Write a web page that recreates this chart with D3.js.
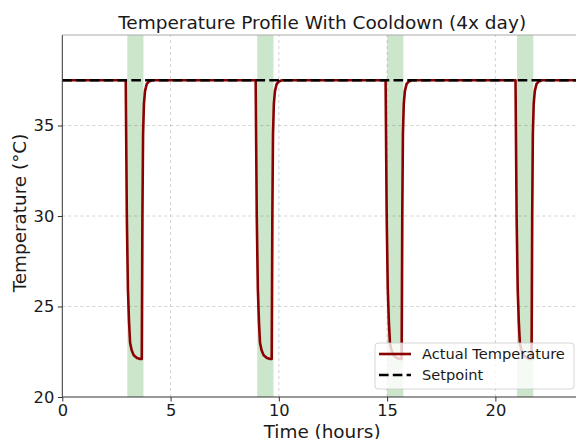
<!DOCTYPE html>
<html>
<head>
<meta charset="utf-8">
<script src="https://cdn.jsdelivr.net/npm/d3@7"></script>
<style>
  html, body { margin: 0; padding: 0; background: #fff; }
  svg { display: block; font-family: "DejaVu Sans", sans-serif; }
</style>
</head>
<body>
<svg id="chart" width="576" height="439"></svg>
<script>
// time (hours) and measured temperature (°C)
const hours = [
  0, 2.93, 2.98, 3.03, 3.08, 3.13, 3.2, 3.3, 3.45, 3.6, 3.67, 3.7, 3.73, 3.77, 3.82, 3.9, 4.0, 4.15,
  8.93, 8.98, 9.03, 9.08, 9.13, 9.2, 9.3, 9.45, 9.6, 9.67, 9.7, 9.73, 9.77, 9.82, 9.9, 10.0, 10.15,
  14.93, 14.98, 15.03, 15.08, 15.13, 15.2, 15.3, 15.45, 15.6, 15.67, 15.7, 15.73, 15.77, 15.82, 15.9, 16.0, 16.15,
  20.93, 20.98, 21.03, 21.08, 21.13, 21.2, 21.3, 21.45, 21.6, 21.67, 21.7, 21.73, 21.77, 21.82, 21.9, 22.0, 22.15,
  24
];
const actualTemp = [
  37.5, 37.5, 30, 26, 24.2, 23.0, 22.6, 22.3, 22.15, 22.1, 22.1, 30, 34.5, 36.2, 36.9, 37.3, 37.43, 37.5,
  37.5, 30, 26, 24.2, 23.0, 22.6, 22.3, 22.15, 22.1, 22.1, 30, 34.5, 36.2, 36.9, 37.3, 37.43, 37.5,
  37.5, 30, 26, 24.2, 23.0, 22.6, 22.3, 22.15, 22.1, 22.1, 30, 34.5, 36.2, 36.9, 37.3, 37.43, 37.5,
  37.5, 30, 26, 24.2, 23.0, 22.6, 22.3, 22.15, 22.1, 22.1, 30, 34.5, 36.2, 36.9, 37.3, 37.43, 37.5,
  37.5
];
const setpoint = 37.5;
const cooldownStart = [3, 9, 15, 21];
const cooldownEnd = [3.75, 9.75, 15.75, 21.75];
const xTicks = [0, 5, 10, 15, 20];
const yTicks = [20, 25, 30, 35];

const svg = d3.select('#chart');
const margin = { left: 62.3, right: -6, top: 35, bottom: 42 };
const W = 576, H = 439;

const x = d3.scaleLinear().domain([0, 24]).range([margin.left, W - margin.right]);
const y = d3.scaleLinear().domain([20, 40]).range([H - margin.bottom, margin.top]);

svg.append('clipPath').attr('id', 'plot-clip')
  .append('rect')
  .attr('x', x(0)).attr('y', y(40))
  .attr('width', x(24) - x(0)).attr('height', y(20) - y(40));

const plot = svg.append('g').attr('clip-path', 'url(#plot-clip)');

// grid
plot.selectAll('line.gx')
  .data(xTicks.slice(1))
  .join('line')
  .attr('x1', d => x(d)).attr('x2', d => x(d))
  .attr('y1', y(20)).attr('y2', y(40))
  .attr('stroke', '#b0b0b0').attr('stroke-width', 0.8)
  .attr('stroke-dasharray', '3,3').attr('opacity', 0.7);

plot.selectAll('line.gy')
  .data(yTicks.slice(1))
  .join('line')
  .attr('x1', x(0)).attr('x2', x(24))
  .attr('y1', d => y(d)).attr('y2', d => y(d))
  .attr('stroke', '#b0b0b0').attr('stroke-width', 0.8)
  .attr('stroke-dasharray', '3,3').attr('opacity', 0.7);

// cooldown bands
plot.selectAll('rect.band')
  .data(cooldownStart.map((s, i) => [s, cooldownEnd[i]]))
  .join('rect')
  .attr('x', d => x(d[0]))
  .attr('width', d => x(d[1]) - x(d[0]))
  .attr('y', y(40)).attr('height', y(20) - y(40))
  .attr('fill', 'green').attr('fill-opacity', 0.2);

const line = d3.line()
  .x((d, i) => x(hours[i]))
  .y(d => y(d));

plot.append('path')
  .attr('d', line(actualTemp))
  .attr('fill', 'none')
  .attr('stroke', '#8b0000')
  .attr('stroke-width', 2.6)
  .attr('stroke-linejoin', 'round');

plot.append('line')
  .attr('x1', x(0)).attr('x2', x(24))
  .attr('y1', y(setpoint)).attr('y2', y(setpoint))
  .attr('stroke', '#000')
  .attr('stroke-width', 2.6)
  .attr('stroke-dasharray', '9.6,4.2');

// axes
const xAxis = svg.append('g')
  .attr('transform', `translate(0,${y(20)})`)
  .call(d3.axisBottom(x).tickValues(xTicks).tickSize(4.5).tickPadding(3));
const yAxis = svg.append('g')
  .attr('transform', `translate(${x(0)},0)`)
  .call(d3.axisLeft(y).tickValues(yTicks).tickSize(4.5).tickPadding(3.5));

[xAxis, yAxis].forEach(g => {
  g.select('.domain').remove();
  g.selectAll('line').attr('stroke', '#333').attr('stroke-width', 1);
  g.selectAll('text')
    .attr('font-family', 'DejaVu Sans')
    .attr('font-size', 16.3)
    .attr('fill', '#1a1a1a');
});

// spines
svg.append('line')
  .attr('x1', x(0)).attr('x2', x(24)).attr('y1', y(20)).attr('y2', y(20))
  .attr('stroke', '#333').attr('stroke-width', 1);
svg.append('line')
  .attr('x1', x(0)).attr('x2', x(0)).attr('y1', y(20)).attr('y2', y(40))
  .attr('stroke', '#333').attr('stroke-width', 1);
svg.append('line')
  .attr('x1', x(0)).attr('x2', x(24)).attr('y1', y(40)).attr('y2', y(40))
  .attr('stroke', '#aaa').attr('stroke-width', 1);

// titles
svg.append('text')
  .attr('x', (x(0) + x(24)) / 2).attr('y', 29)
  .attr('text-anchor', 'middle')
  .attr('font-size', 18.5)
  .attr('fill', '#1a1a1a')
  .text('Temperature Profile With Cooldown (4x day)');

svg.append('text')
  .attr('x', (x(0) + x(24)) / 2).attr('y', 437.5)
  .attr('text-anchor', 'middle')
  .attr('font-size', 18.4)
  .attr('fill', '#1a1a1a')
  .text('Time (hours)');

svg.append('text')
  .attr('transform', `translate(26,213) rotate(-90)`)
  .attr('text-anchor', 'middle')
  .attr('font-size', 18.4)
  .attr('fill', '#1a1a1a')
  .text('Temperature (°C)');

// legend
const legend = svg.append('g').attr('transform', 'translate(375,343)');
legend.append('rect')
  .attr('width', 199).attr('height', 46)
  .attr('rx', 3)
  .attr('fill', '#fff').attr('fill-opacity', 0.8)
  .attr('stroke', '#ccc').attr('stroke-width', 0.8);

const entries = [
  { label: 'Actual Temperature', color: '#8b0000', dash: null },
  { label: 'Setpoint', color: '#000', dash: '9.6,4.2' }
];
entries.forEach((e, i) => {
  const ly = 11 + i * 21;
  legend.append('line')
    .attr('x1', 4).attr('x2', 36).attr('y1', ly).attr('y2', ly)
    .attr('stroke', e.color).attr('stroke-width', 2.6)
    .attr('stroke-dasharray', e.dash);
  legend.append('text')
    .attr('x', 47).attr('y', ly + 5)
    .attr('font-size', 14.6)
    .attr('fill', '#1a1a1a')
    .text(e.label);
});
</script>
</body>
</html>
